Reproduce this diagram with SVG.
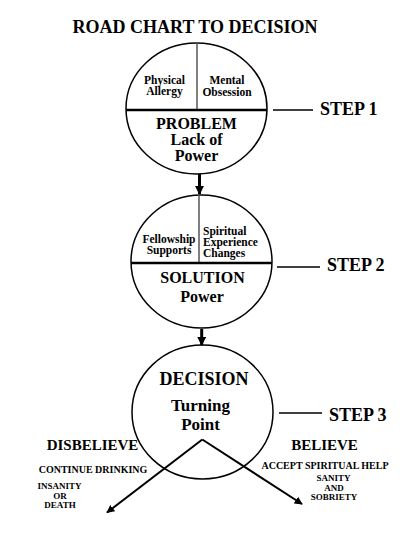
<svg xmlns="http://www.w3.org/2000/svg" width="416" height="538" viewBox="0 0 416 538" font-family="'Liberation Serif', 'DejaVu Serif', 'Times New Roman', serif">
<defs>
<style>
text{font-family:'Liberation Serif','DejaVu Serif','Times New Roman',serif;font-weight:bold;fill:#000;text-anchor:middle}
.ring{fill:none;stroke:#000;stroke-width:1.5}
.hdiv{stroke:#000;stroke-width:2.5}
.vdiv{stroke:#555;stroke-width:1.5}
.step{font-size:18px;text-anchor:start}
.conn{stroke:#000;stroke-width:2;fill:none}
.thin{stroke:#000;stroke-width:1.5;fill:none}
.thick{stroke:#000;stroke-width:3}
.s11{font-size:11.5px}
.s16{font-size:16px}
.s18{font-size:18px}
.s17{font-size:17px}
.s15{font-size:15px}
.s10{font-size:10px}
.s9{font-size:9px}
</style>
<marker id="ah" viewBox="0 0 10 10" refX="9" refY="5" markerWidth="4" markerHeight="4" orient="auto" markerUnits="strokeWidth">
<path d="M0,0 L10,5 L0,10 z" fill="#000"/>
</marker>
<marker id="ahs" viewBox="0 0 10 10" refX="9" refY="5" markerWidth="3" markerHeight="3" orient="auto" markerUnits="strokeWidth">
<path d="M0,0 L10,5 L0,10 z" fill="#000"/>
</marker>
</defs>
<text x="195" y="33" style="font-size:18px">ROAD CHART TO DECISION</text>

<g id="step1">
<ellipse class="ring" cx="196.5" cy="108.5" rx="70.5" ry="65.5"/>
<line class="vdiv" x1="197" y1="42" x2="197" y2="110"/>
<line class="hdiv" x1="126" y1="110" x2="267" y2="110"/>
<text class="s11" x="164.5" y="84">Physical</text>
<text class="s11" x="164.5" y="95">Allergy</text>
<text class="s11" x="227" y="84">Mental</text>
<text class="s11" x="227" y="95.5">Obsession</text>
<text class="s16" x="196.5" y="128.5">PROBLEM</text>
<text class="s16" x="196.5" y="144.5">Lack of</text>
<text class="s16" x="196.5" y="160.5">Power</text>
</g>

<g id="step2">
<ellipse class="ring" cx="201.5" cy="261.5" rx="70.5" ry="66.5"/>
<line class="vdiv" x1="199" y1="195" x2="199" y2="263"/>
<line class="hdiv" x1="131" y1="263" x2="272" y2="263"/>
<text class="s11" x="169" y="243">Fellowship</text>
<text class="s11" x="169" y="254">Supports</text>
<text class="s11" x="203" y="235" style="text-anchor:start">Spiritual</text>
<text class="s11" x="203" y="246" style="text-anchor:start">Experience</text>
<text class="s11" x="203" y="257" style="text-anchor:start">Changes</text>
<text class="s16" x="202.5" y="283">SOLUTION</text>
<text class="s16" x="202" y="302">Power</text>
</g>

<g id="step3">
<ellipse class="ring" cx="202.5" cy="412" rx="70.5" ry="67"/>
<text class="s18" x="204" y="385">DECISION</text>
<text class="s17" x="200.5" y="410.5">Turning</text>
<text class="s17" x="200.5" y="429.5">Point</text>
</g>

<g id="disbelieve">
<text class="s15" x="92.5" y="450">DISBELIEVE</text>
<text class="s10" x="93" y="473">CONTINUE  DRINKING</text>
<text class="s9" x="59.5" y="489">INSANITY</text>
<text class="s9" x="60" y="499">OR</text>
<text class="s9" x="60" y="508">DEATH</text>
</g>

<g id="believe">
<text class="s15" x="324.5" y="450">BELIEVE</text>
<text class="s10" x="325" y="469">ACCEPT SPIRITUAL HELP</text>
<text class="s9" x="333.5" y="481">SANITY</text>
<text class="s9" x="334" y="491">AND</text>
<text class="s9" x="334" y="500">SOBRIETY</text>
</g>

<g id="labels">
<text class="step" x="320" y="115">STEP 1</text>
<text class="step" x="327" y="271">STEP 2</text>
<text class="step" x="329" y="421">STEP 3</text>
</g>

<g id="connectors">
<line class="thin" x1="273" y1="110" x2="313" y2="110"/>
<line class="thin" x1="277" y1="267" x2="320" y2="267"/>
<line class="thin" x1="279" y1="413" x2="322" y2="413"/>
<line class="thick" x1="199.5" y1="174" x2="199.5" y2="194" marker-end="url(#ahs)"/>
<line class="thick" x1="201.7" y1="329" x2="201.7" y2="345" marker-end="url(#ahs)"/>
<line class="conn" x1="202.3" y1="439.5" x2="107" y2="512.5" marker-end="url(#ah)"/>
<line class="conn" x1="202.3" y1="439.5" x2="302" y2="504" marker-end="url(#ah)"/>
</g>
</svg>
